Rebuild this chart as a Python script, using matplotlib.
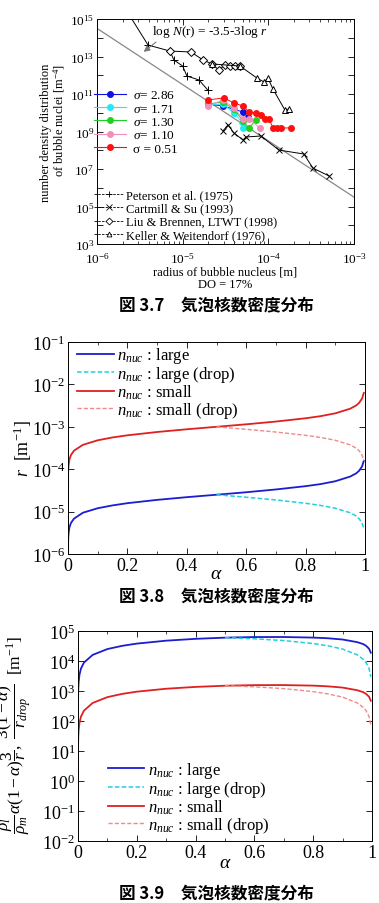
import numpy as np
import matplotlib
matplotlib.use("Agg")
import matplotlib.pyplot as plt
from matplotlib.lines import Line2D
from matplotlib.ticker import FixedLocator, FuncFormatter, LogLocator, NullLocator, MultipleLocator, NullFormatter

plt.rcParams['font.family'] = ['Liberation Serif', 'Noto Sans CJK JP']
plt.rcParams['mathtext.fontset'] = 'custom'
plt.rcParams['mathtext.rm'] = 'Liberation Serif'
plt.rcParams['mathtext.it'] = 'Liberation Serif:italic'
plt.rcParams['mathtext.bf'] = 'Liberation Serif:bold'

# ---------------- Panel 1 data (Fig 3.7) ----------------
peterson_r = [1.95e-6, 3.94e-6, 7.1e-6, 7.9e-6, 1.0e-5, 1.12e-5, 1.55e-5, 1.97e-5]
peterson_N = [7.1e15, 4.1e13, 1.95e13, 6.5e12, 3.1e12, 9.1e11, 5.6e11, 1.6e11]
cartmill_r = [2.95e-5, 3.38e-5, 3.97e-5, 5.06e-5, 5.48e-5, 8.2e-5, 1.33e-4, 2.6e-4, 3.31e-4, 5.09e-4]
cartmill_N = [1.07e9, 2.24e9, 8.3e8, 3.55e8, 5.1e8, 5.75e8, 1.02e8, 6.3e7, 1.12e7, 4.3e6]
liu_r = [7.1e-6, 1.25e-5, 1.73e-5, 2.2e-5, 2.65e-5, 3.12e-5, 3.56e-5, 4.07e-5, 4.67e-5]
liu_N = [1.95e13, 1.74e13, 6.5e12, 4.0e12, 1.9e12, 3.55e12, 3.1e12, 3.1e12, 3.1e12]
keller_r = [2.2e-5, 4.67e-5, 7.36e-5, 8.9e-5, 9.9e-5, 1.13e-4, 1.56e-4, 1.74e-4]
keller_N = [4.0e12, 3.1e12, 7.1e11, 4.4e11, 7.1e11, 1.86e11, 1.41e10, 1.58e10]

sig286_r = [1.97e-5, 2.95e-5, 5.06e-5, 5.78e-5]
sig286_N = [2.95e10, 2.3e10, 1.1e10, 5.9e9]
sig171_r = [1.97e-5, 2.95e-5, 3.97e-5, 4.92e-5, 5.06e-5]
sig171_N = [2.6e10, 2.95e10, 9.8e9, 3.2e9, 1.55e9]
sig130_r = [1.97e-5, 2.95e-5, 3.97e-5, 5.06e-5, 5.94e-5, 7.16e-5]
sig130_N = [2.95e10, 3.7e10, 1.58e10, 3.6e9, 1.55e9, 4.1e9]
sig110_r = [1.97e-5, 2.95e-5, 3.97e-5, 5.06e-5, 5.94e-5, 7.96e-5]
sig110_N = [2.3e10, 4.8e10, 1.78e10, 4.7e9, 4.7e9, 1.55e9]
sig051_r = [1.97e-5, 3.03e-5, 3.97e-5, 5.06e-5, 5.94e-5, 7.16e-5, 8.2e-5, 9.1e-5, 1.02e-4, 1.13e-4, 1.26e-4, 1.40e-4, 1.84e-4]
sig051_N = [4.8e10, 6.2e10, 3.3e10, 2.3e10, 1.1e10, 9.8e9, 7.6e9, 4.7e9, 4.7e9, 1.55e9, 1.55e9, 1.55e9, 1.55e9]

fit_r = [1e-6, 1e-3]
fit_N = [10**14.5, 10**5.5]

sigma_labels = [r'$\sigma$= 2.86', r'$\sigma$= 1.71', r'$\sigma$= 1.30', r'$\sigma$= 1.10', 'σ = 0.51']
ref_labels = ['Peterson et al. (1975)', 'Cartmill & Su (1993)', 'Liu & Brennen, LTWT (1998)', 'Keller & Weitendorf (1976)']

# ---------------- Panel 2 data (Fig 3.8) ----------------
alpha2 = [1e-10, 0.0005, 0.001, 0.002, 0.005, 0.01, 0.02, 0.05, 0.1, 0.15, 0.2, 0.3, 0.4, 0.5,
          0.6, 0.7, 0.8, 0.85, 0.9, 0.95, 0.97, 0.98, 0.99, 0.996]
r_large = [1.2e-8, 1.98e-6, 2.5e-6, 3.15e-6, 4.3e-6, 5.4e-6, 6.8e-6, 9.4e-6, 1.2e-5, 1.4e-5, 1.58e-5, 1.89e-5,
           2.19e-5, 2.5e-5, 2.86e-5, 3.33e-5, 3.98e-5, 4.45e-5, 5.2e-5, 6.7e-5, 7.95e-5, 9.15e-5, 1.16e-4, 1.58e-4]
r_small = [4.6e-7, 7.9e-5, 1.0e-4, 1.26e-4, 1.71e-4, 2.16e-4, 2.73e-4, 3.75e-4, 4.81e-4, 5.61e-4, 6.30e-4, 7.54e-4,
           8.74e-4, 1.0e-3, 1.145e-3, 1.33e-3, 1.59e-3, 1.78e-3, 2.08e-3, 2.67e-3, 3.18e-3, 3.66e-3, 4.63e-3, 6.3e-3]
alpha_drop = [0.5, 0.6, 0.7, 0.8, 0.85, 0.9, 0.95, 0.97, 0.98, 0.99, 0.996]
r_large_drop = [2.5e-5, 2.18e-5, 1.88e-5, 1.57e-5, 1.4e-5, 1.2e-5, 9.4e-6, 7.9e-6, 6.8e-6, 5.4e-6, 4.0e-6]
r_small_drop = [1e-3, 8.73e-4, 7.52e-4, 6.29e-4, 5.62e-4, 4.81e-4, 3.75e-4, 3.14e-4, 2.73e-4, 2.16e-4, 1.59e-4]

# ---------------- Panel 3 data (Fig 3.9) ----------------
alpha3_large = [1e-4, 0.0005, 0.001, 0.002, 0.005, 0.01, 0.02, 0.05, 0.1, 0.15, 0.2, 0.3, 0.4, 0.5,
                0.6, 0.7, 0.8, 0.85, 0.9, 0.95, 0.97, 0.98, 0.99, 0.996]
a_large = [259, 758, 1200, 1905, 3490, 5560, 8820, 1.6e4, 2.5e4, 3.2e4, 3.8e4, 4.76e4, 5.48e4, 6.0e4,
           6.29e4, 6.3e4, 6.03e4, 5.73e4, 5.2e4, 4.25e4, 3.66e4, 3.2e4, 2.56e4, 1.89e4]
alpha3_small = [3e-8, 1e-6, 1e-5, 1e-4, 0.0005, 0.001, 0.002, 0.005, 0.01, 0.02, 0.05, 0.1, 0.15, 0.2, 0.3,
                0.4, 0.5, 0.6, 0.7, 0.8, 0.85, 0.9, 0.95, 0.97, 0.98, 0.99, 0.996]
a_small = [0.029, 0.3, 1.39, 6.5, 19, 30, 47.6, 87, 139, 220, 400, 625, 800, 950, 1190,
           1370, 1500, 1570, 1575, 1510, 1430, 1300, 1060, 915, 800, 640, 473]
a_large_drop = [6.0e4, 5.5e4, 4.79e4, 3.82e4, 3.21e4, 2.5e4, 1.6e4, 1.14e4, 8.8e3, 5.6e3, 3.0e3]
a_small_drop = [1500, 1375, 1200, 955, 800, 625, 400, 285, 220, 139, 75]

nuc_labels = [r'$n_{nuc}$ : large', r'$n_{nuc}$ : large (drop)', r'$n_{nuc}$ : small', r'$n_{nuc}$ : small (drop)']
captions = ['図 3.7\u3000気泡核数密度分布', '図 3.8\u3000気泡核数密度分布', '図 3.9\u3000気泡核数密度分布']

C_BLUE = '#1c1cd0'
C_CYAN = '#22d0e0'
C_RED = '#e02020'
C_PINK = '#f08a8a'

W, H = 379, 904
fig = plt.figure(figsize=(W / 100, H / 100), dpi=100)


def box(l, t, r, b):
    return [l / W, 1 - b / H, (r - l) / W, (b - t) / H]


def sup_fmt(v, pos):
    e = int(round(np.log10(v)))
    return r'$10^{%d}$' % e


def style_ticks(ax, size, pad=3):
    ax.tick_params(which='both', direction='in', top=True, right=True, labelsize=size, pad=pad)
    ax.tick_params(which='major', length=4, width=0.6)
    ax.tick_params(which='minor', length=2, width=0.5)
    for s in ax.spines.values():
        s.set_linewidth(0.7)


def lin_fmt(v, p):
    if abs(v) < 1e-9:
        return '0'
    if abs(v - 1) < 1e-9:
        return '1'
    return '%.1f' % v


# ---------------- Panel 1 ----------------
ax1 = fig.add_axes(box(97, 20, 354, 245))
ax1.set_xscale('log')
ax1.set_yscale('log')
ax1.set_xlim(1e-6, 1e-3)
ax1.set_ylim(1e3, 1e15)
ax1.plot(fit_r, fit_N, color='#888888', lw=0.9, zorder=1)
blk = dict(color='black', lw=0.7, mfc='white', mec='black', mew=0.7)
ax1.plot(peterson_r, peterson_N, marker='+', ms=6, **blk)
ax1.plot(cartmill_r, cartmill_N, marker='x', ms=5, **blk)
ax1.plot(liu_r, liu_N, marker='D', ms=4.5, **blk)
ax1.plot(keller_r, keller_N, marker='^', ms=5, **blk)

sig_series = [(sig286_r, sig286_N, '#1010e0'), (sig171_r, sig171_N, '#20e8f8'),
              (sig130_r, sig130_N, '#20d020'), (sig110_r, sig110_N, '#f090b8'),
              (sig051_r, sig051_N, '#ff1010')]
for rr, nn, c in sig_series:
    ax1.plot(rr, nn, color=c, lw=0.7, marker='o', ms=4, mec=c, mfc=c, zorder=3)

ax1.yaxis.set_major_locator(FixedLocator([10.0 ** k for k in range(3, 16)]))
ax1.yaxis.set_minor_locator(NullLocator())
ax1.yaxis.set_major_formatter(FuncFormatter(lambda v, p: sup_fmt(v, p) if int(round(np.log10(v))) % 2 == 1 else ''))
ax1.xaxis.set_major_locator(FixedLocator([1e-6, 1e-5, 1e-4, 1e-3]))
ax1.xaxis.set_minor_locator(LogLocator(base=10, subs=np.arange(2, 10)))
ax1.xaxis.set_minor_formatter(NullFormatter())
ax1.xaxis.set_major_formatter(FuncFormatter(sup_fmt))
style_ticks(ax1, 9.5, pad=2)
ax1.tick_params(axis='x', pad=5)

ax1.set_xlabel('radius of bubble nucleus [m]\nDO = 17%', fontsize=9, labelpad=0, linespacing=1.1)
ax1.set_ylabel('number density distribution\nof bubble nuclei [m$^{-4}$]', fontsize=9,
               multialignment='right', linespacing=1.0)
ax1.yaxis.set_label_coords(-0.115, 0.5)

ax1.annotate('', xy=(0.173, 0.846), xytext=(0.238, 0.905), xycoords='axes fraction',
             arrowprops=dict(arrowstyle='-|>', color='#777777', lw=0.8, mutation_scale=9))
ax1.text(0.214, 0.947, r'log $N$(r) = -3.5-3log $r$', transform=ax1.transAxes,
         fontsize=9.5, ha='left', va='center')

sig_handles = [Line2D([], [], color=c, lw=0.8, marker='o', ms=4, mec=c, mfc=c) for _, _, c in sig_series]
leg1 = ax1.legend(sig_handles, sigma_labels, loc='upper left', bbox_to_anchor=(-0.02, 0.70),
                  frameon=False, fontsize=9.5, handlelength=2.4, handletextpad=0.5,
                  labelspacing=0.08, borderaxespad=0, borderpad=0.2)
ax1.add_artist(leg1)
ref_handles = [Line2D([], [], color='black', lw=0.6, ls=(0, (3, 1.5)), marker=m, ms=ms,
                      mfc='white', mec='black', mew=0.6)
               for m, ms in [('+', 5), ('x', 4), ('D', 3.5), ('^', 3.5)]]
ax1.legend(ref_handles, ref_labels, loc='lower left', bbox_to_anchor=(-0.02, 0.0),
           frameon=False, fontsize=9, handlelength=2.4, handletextpad=0.15,
           labelspacing=0.12, borderaxespad=0, borderpad=0.2)

# ---------------- Panel 2 ----------------
ax2 = fig.add_axes(box(68, 343, 365, 555))
ax2.set_yscale('log')
ax2.set_xlim(0, 1)
ax2.set_ylim(1e-6, 1e-1)
ax2.plot(alpha2, r_large, color=C_BLUE, lw=1.3)
ax2.plot(alpha_drop, r_large_drop, color=C_CYAN, lw=1.1, ls=(0, (3, 1.5)))
ax2.plot(alpha2, r_small, color=C_RED, lw=1.3)
ax2.plot(alpha_drop, r_small_drop, color=C_PINK, lw=1.0, ls=(0, (3, 1.5)))
ax2.yaxis.set_major_locator(FixedLocator([10.0 ** k for k in range(-6, 0)]))
ax2.yaxis.set_minor_locator(NullLocator())
ax2.yaxis.set_major_formatter(FuncFormatter(sup_fmt))
ax2.xaxis.set_major_locator(MultipleLocator(0.2))
ax2.xaxis.set_minor_locator(MultipleLocator(0.1))
ax2.xaxis.set_major_formatter(FuncFormatter(lin_fmt))
style_ticks(ax2, 13, pad=2)
ax2.set_xlabel(r'$\alpha$', fontsize=14, labelpad=-6)
ax2.set_ylabel(r'$r$  [m$^{-1}$]', fontsize=13)
ax2.yaxis.set_label_coords(-0.115, 0.5)
h2 = [Line2D([], [], color=C_BLUE, lw=1.3), Line2D([], [], color=C_CYAN, lw=1.1, ls=(0, (3, 1.5))),
      Line2D([], [], color=C_RED, lw=1.3), Line2D([], [], color=C_PINK, lw=1.0, ls=(0, (3, 1.5)))]
ax2.legend(h2, nuc_labels, loc='upper left', bbox_to_anchor=(0.02, 1.0), frameon=False,
           fontsize=12, handlelength=2.2, handletextpad=0.2, labelspacing=-0.08,
           borderaxespad=0, borderpad=0.2)

# ---------------- Panel 3 ----------------
ax3 = fig.add_axes(box(78, 632, 372, 842))
ax3.set_yscale('log')
ax3.set_xlim(0, 1)
ax3.set_ylim(1e-2, 1e5)
ax3.plot(alpha3_large, a_large, color=C_BLUE, lw=1.3)
ax3.plot(alpha_drop, a_large_drop, color=C_CYAN, lw=1.1, ls=(0, (3, 1.5)))
ax3.plot(alpha3_small, a_small, color=C_RED, lw=1.3)
ax3.plot(alpha_drop, a_small_drop, color=C_PINK, lw=1.0, ls=(0, (3, 1.5)))
ax3.yaxis.set_major_locator(FixedLocator([10.0 ** k for k in range(-2, 6)]))
ax3.yaxis.set_minor_locator(NullLocator())
ax3.yaxis.set_major_formatter(FuncFormatter(sup_fmt))
ax3.xaxis.set_major_locator(MultipleLocator(0.2))
ax3.xaxis.set_minor_locator(MultipleLocator(0.1))
ax3.xaxis.set_major_formatter(FuncFormatter(lin_fmt))
style_ticks(ax3, 13, pad=2)
ax3.set_xlabel(r'$\alpha$', fontsize=14, labelpad=-5)
fig.text(14 / W, 1 - 735 / H,
         r'$\dfrac{\rho_l}{\rho_m}\alpha(1-\alpha)\dfrac{3}{r},\ \dfrac{3(1-\alpha)}{r_{drop}}$  [m$^{-1}$]',
         rotation=90, fontsize=12.5, ha='center', va='center')
ax3.legend(h2, nuc_labels, loc='lower left', bbox_to_anchor=(0.09, 0.015), frameon=False,
           fontsize=12, handlelength=2.2, handletextpad=0.2, labelspacing=-0.08,
           borderaxespad=0, borderpad=0.2)

# ---------------- Captions ----------------
for cap, yp in zip(captions, [305, 596, 893]):
    fig.text(216 / W, 1 - yp / H, cap, fontsize=12, fontweight='bold',
             family=['Noto Sans CJK JP'], ha='center', va='center')

fig.savefig('out.png', dpi=100)
